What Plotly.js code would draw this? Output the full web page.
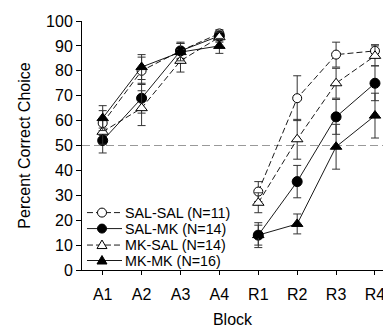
<!DOCTYPE html>
<html>
<head>
<meta charset="utf-8">
<script src="https://cdn.plot.ly/plotly-3.0.1.min.js"></script>
<style>html,body{margin:0;padding:0;overflow:hidden;background:#fff}#chart{width:383px;height:328px}</style>
</head>
<body>
<div id="chart"></div>
<script>
var blocks = ["A1","A2","A3","A4","R1","R2","R3","R4"];
var groupNames = ["SAL-SAL (N=11)","SAL-MK (N=14)","MK-SAL (N=14)","MK-MK (N=16)"];
var salSal = [59, 80, 88, 95, 31.5, 69, 86.5, 88];
var salSalErr = [5, 5.5, 3.5, 1.5, 4, 9, 5, 2.5];
var salMk = [52, 69, 88, 94, 14, 35.5, 61.5, 75];
var salMkErr = [5, 6, 3, 2, 5, 6.5, 7, 7];
var mkSal = [55.5, 65, 84, 93.5, 27, 52.5, 75, 86];
var mkSalErr = [5, 7, 4.5, 2, 4, 8, 6, 4];
var mkMk = [61, 81.5, 87.5, 90, 14, 18.5, 49.5, 62];
var mkMkErr = [5, 5, 3.5, 3, 4, 4, 9, 9];

var values = [salSal, salMk, mkSal, mkMk];
var errors = [salSalErr, salMkErr, mkSalErr, mkMkErr];
var shapesKind = ["circle", "circle", "triangle-up", "triangle-up"];
var isOpen = [true, false, true, false];
var dashes = ["6px,3px", "solid", "6px,3px", "solid"];
var sizes = [9, 10, 10, 10];

var traces = [];
var phases = [[0,4],[4,8]];
for (var g = 0; g < 4; g++) {
  for (var p = 0; p < 2; p++) {
    var s = phases[p][0], e = phases[p][1];
    traces.push({
      type: "scatter",
      mode: "lines+markers",
      x: blocks.slice(s, e),
      y: values[g].slice(s, e),
      name: groupNames[g],
      showlegend: false,
      line: {color: "#000", width: 0.9, dash: dashes[g]},
      marker: {
        symbol: shapesKind[g],
        size: sizes[g],
        color: isOpen[g] ? "#fff" : "#000",
        line: {color: "#000", width: 1}
      },
      error_y: {type: "data", array: errors[g].slice(s, e), visible: true,
                color: "#333", thickness: 1, width: 4}
    });
  }
}

// custom legend (layout decorations)
var legRowsY = [0.2305, 0.1663, 0.1002, 0.0381];
var legLineX = [0.0166, 0.1329];
var legMarkX = 0.0664;
var legTextX = 0.1362;
var shapes = [{type: "line", xref: "paper", x0: 0, x1: 1, yref: "y", y0: 50, y1: 50,
            line: {color: "#999", width: 1, dash: "8px,4px"}, layer: "below"}];
var annotations = [];
for (var i = 0; i < 4; i++) {
  shapes.push({type: "line", xref: "paper", yref: "paper",
    x0: legLineX[0], x1: legLineX[1], y0: legRowsY[i], y1: legRowsY[i],
    line: {color: "#000", width: 0.9, dash: dashes[i]}});
  var fill = isOpen[i] ? "#fff" : "#000";
  if (shapesKind[i] === "circle") {
    shapes.push({type: "circle", xref: "paper", yref: "paper",
      xsizemode: "pixel", ysizemode: "pixel",
      xanchor: legMarkX, yanchor: legRowsY[i],
      x0: -4.5, x1: 4.5, y0: -4.5, y1: 4.5,
      fillcolor: fill, line: {color: "#000", width: 1}});
  } else {
    shapes.push({type: "path", xref: "paper", yref: "paper",
      xsizemode: "pixel", ysizemode: "pixel",
      xanchor: legMarkX, yanchor: legRowsY[i],
      path: "M -5 -3.5 L 5 -3.5 L 0 5 Z",
      fillcolor: fill, line: {color: "#000", width: 1}});
  }
  annotations.push({xref: "paper", yref: "paper", x: legTextX, y: legRowsY[i],
    xanchor: "left", yanchor: "middle", showarrow: false,
    text: groupNames[i], font: {size: 14.3, color: "#000"}});
}

var layout = {
  width: 383, height: 328,
  margin: {l: 82, r: 0, t: 21, b: 57.5},
  paper_bgcolor: "#fff", plot_bgcolor: "#fff",
  font: {family: "Liberation Sans, Arial, sans-serif", color: "#000", size: 16},
  showlegend: false,
  xaxis: {
    type: "category", categoryorder: "array", categoryarray: blocks,
    range: [-0.532, 7.206],
    showline: true, linecolor: "#000", linewidth: 1,
    ticks: "outside", ticklen: 4, tickcolor: "#000",
    ticklabelstandoff: 6,
    showgrid: false, zeroline: false,
    tickfont: {size: 16},
    title: {text: "Block", font: {size: 16}, standoff: 18}
  },
  yaxis: {
    range: [0, 100], tickvals: [0,10,20,30,40,50,60,70,80,90,100],
    showline: true, linecolor: "#000", linewidth: 1,
    ticks: "outside", ticklen: 5, tickcolor: "#000",
    showgrid: false, zeroline: false,
    tickfont: {size: 16},
    title: {text: "Percent Correct Choice", font: {size: 16}, standoff: 11}
  },
  shapes: shapes,
  annotations: annotations
};

Plotly.newPlot("chart", traces, layout, {displayModeBar: false, staticPlot: true});
</script>
</body>
</html>
